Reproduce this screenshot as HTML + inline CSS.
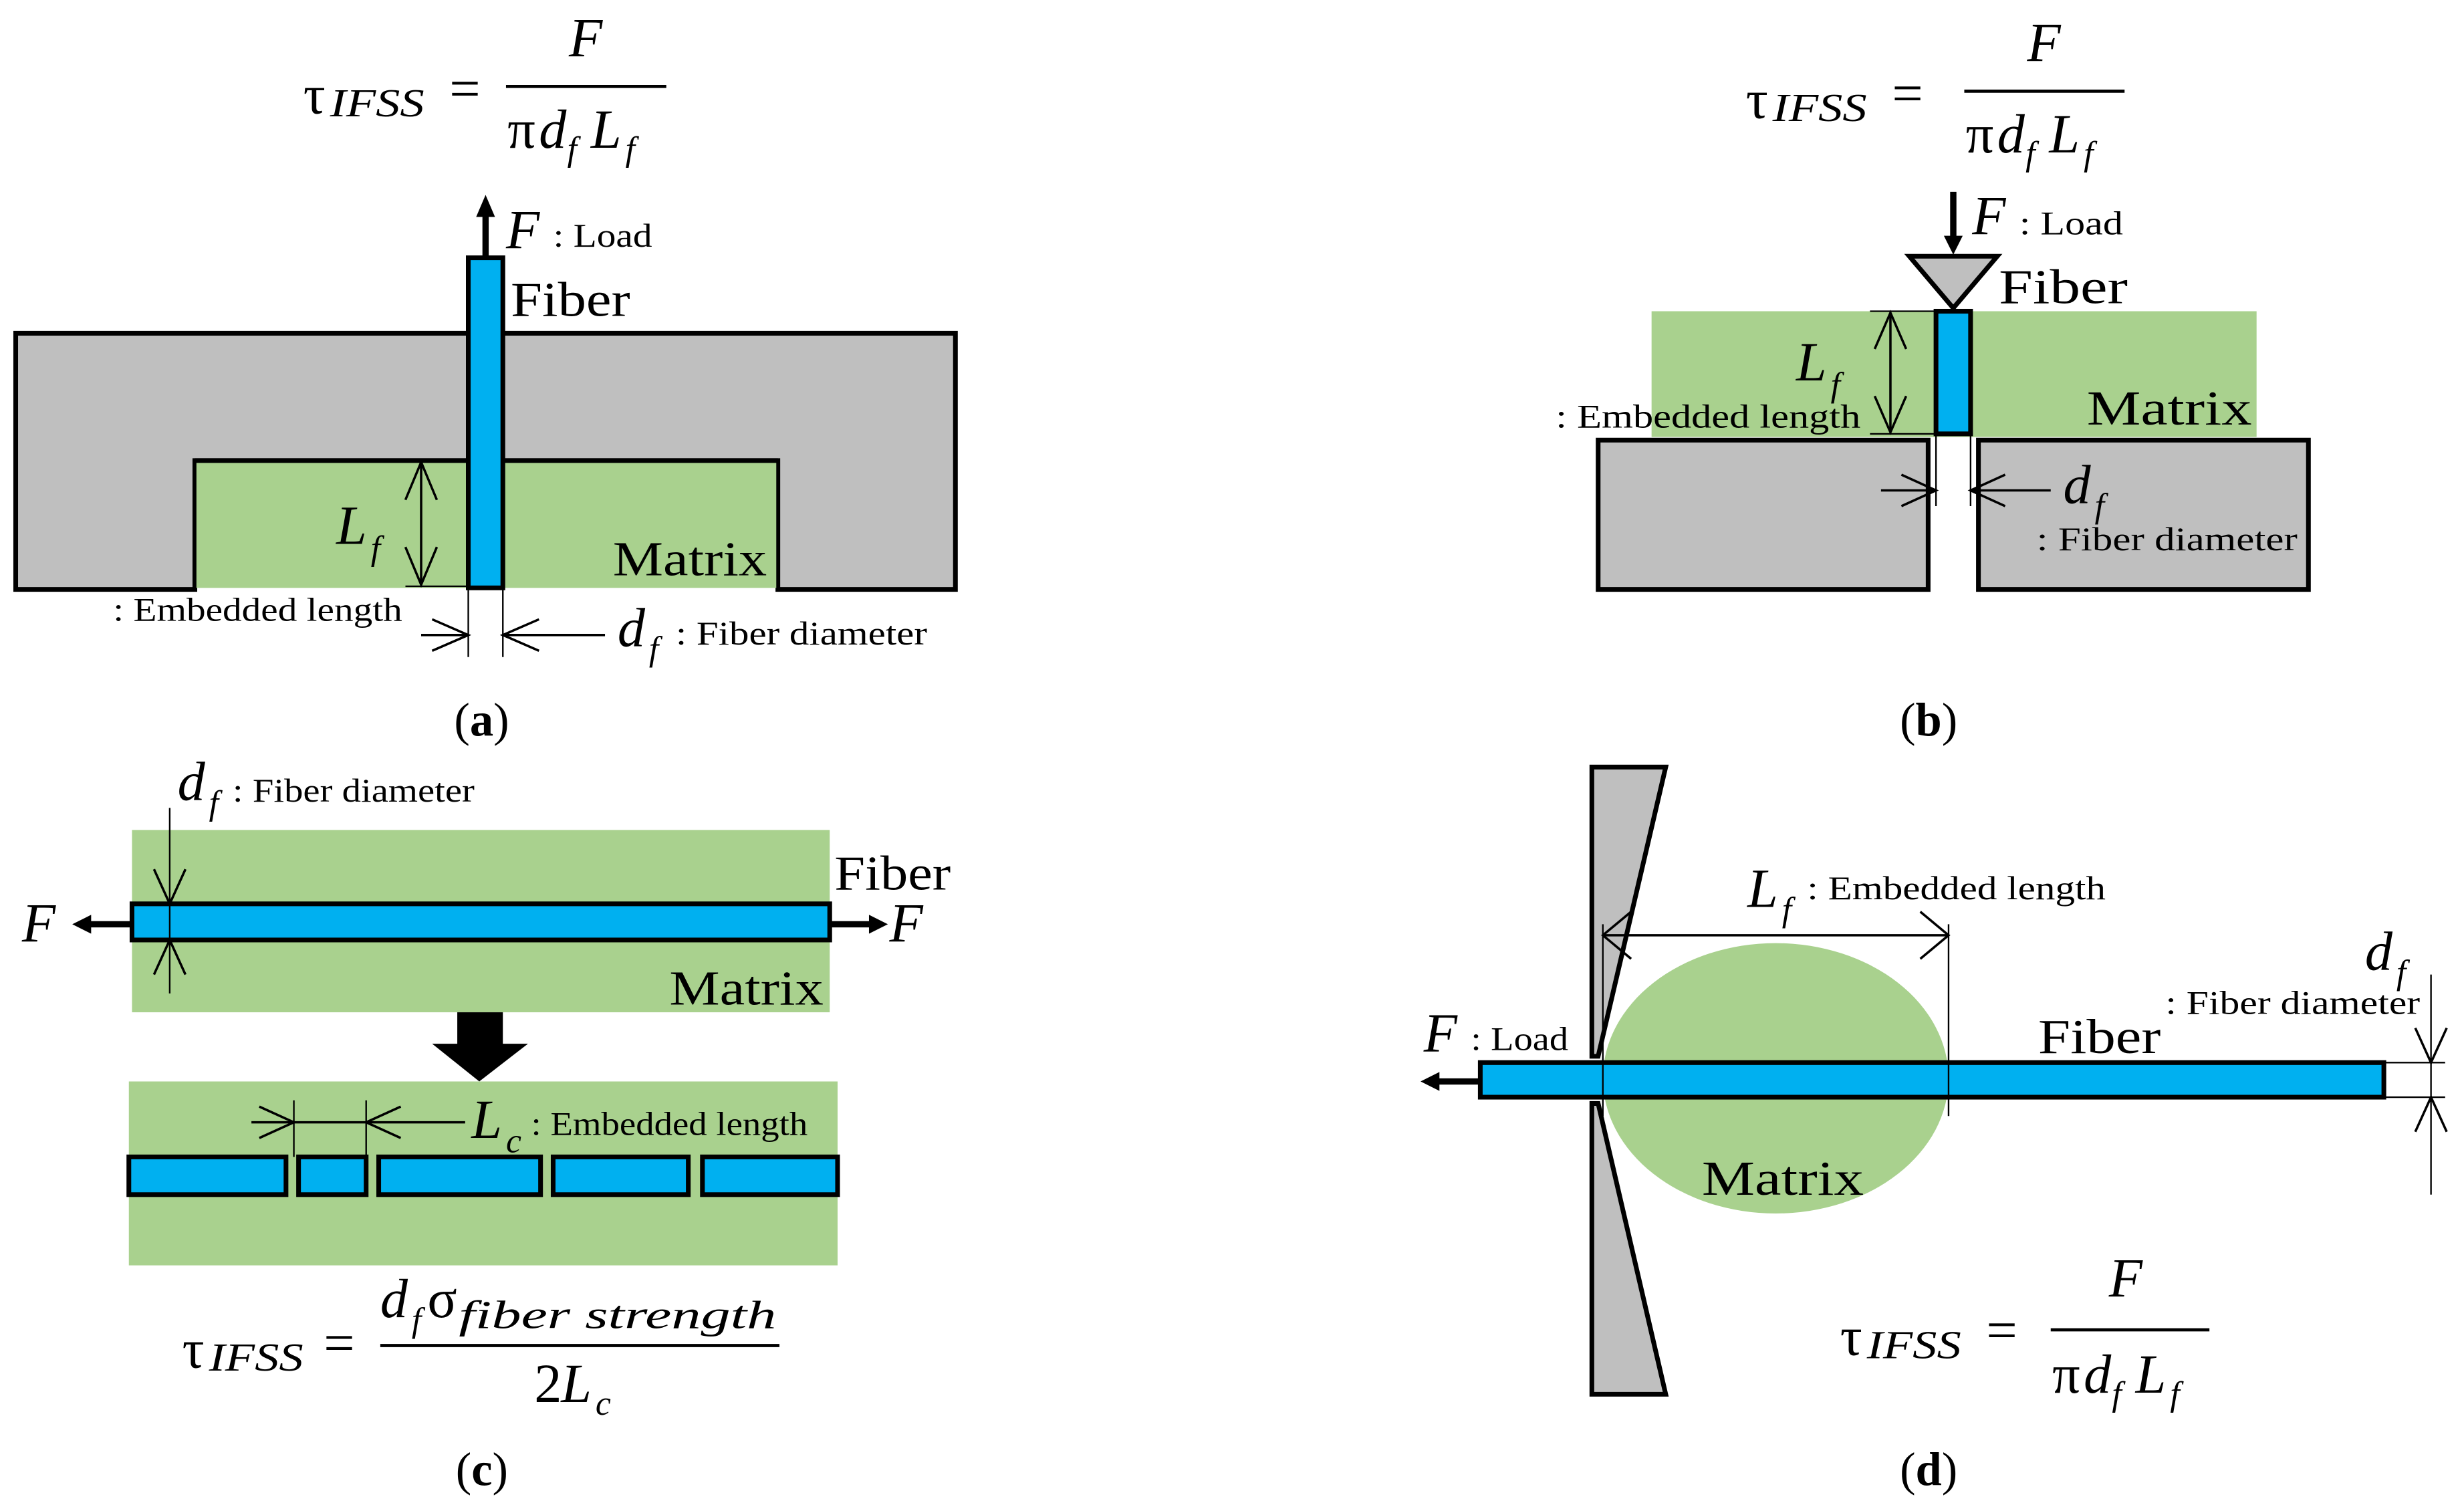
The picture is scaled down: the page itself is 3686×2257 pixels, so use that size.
<!DOCTYPE html>
<html><head><meta charset="utf-8">
<style>
html,body{margin:0;padding:0;background:#fff;}
svg{display:block;}
text{font-family:"Liberation Serif",serif;fill:#000;}
.i{font-style:italic;}
.s{font-size:21px;}
.m{font-size:31px;}
.l{font-size:35px;}
</style></head><body>
<svg width="3686" height="2257" viewBox="0 0 1568 960" preserveAspectRatio="none" xmlns="http://www.w3.org/2000/svg">

<!-- ===== Panel a ===== -->
<text x="193" y="72" class="l">τ</text><text x="210" y="74" class="i" font-size="25" textLength="60" lengthAdjust="spacingAndGlyphs">IFSS</text>
<text x="286" y="68" class="l">=</text>
<text x="362" y="36" class="i l">F</text>
<line x1="322" y1="55" x2="424" y2="55" stroke="#000" stroke-width="2"/>
<text x="323" y="94" class="l">π</text><text x="343" y="94" class="i l">d</text><text x="361" y="102" class="i" font-size="22">f</text><text x="376" y="94" class="i l">L</text><text x="398" y="102" class="i" font-size="22">f</text>

<polygon points="10,212 608,212 608,375 495,375 495,293 124,293 124,375 10,375" fill="#bfbfbf" stroke="#000" stroke-width="3"/>
<rect x="125" y="294" width="369" height="80" fill="#a9d18e"/>
<line x1="124" y1="293" x2="495" y2="293" stroke="#000" stroke-width="3"/>
<rect x="298" y="164" width="22" height="210" fill="#00b0f0" stroke="#000" stroke-width="3"/>
<line x1="309" y1="164" x2="309" y2="136" stroke="#000" stroke-width="4"/>
<polygon points="303,138 315,138 309,124" fill="#000"/>
<text x="322" y="158" class="i l">F</text><text x="352" y="157" class="s" textLength="63" lengthAdjust="spacingAndGlyphs">: Load</text>
<text x="325" y="201" class="m" textLength="76" lengthAdjust="spacingAndGlyphs">Fiber</text>
<line x1="258" y1="293" x2="298" y2="293" stroke="#000" stroke-width="1"/>
<line x1="258" y1="373" x2="298" y2="373" stroke="#000" stroke-width="1"/>
<line x1="268" y1="294" x2="268" y2="372" stroke="#000" stroke-width="1.5"/>
<polyline points="258,318 268,294 278,318" fill="none" stroke="#000" stroke-width="1.5"/>
<polyline points="258,348 268,372 278,348" fill="none" stroke="#000" stroke-width="1.5"/>
<text x="214" y="346" class="i l">L</text><text x="236" y="356" class="i" font-size="22">f</text>
<text x="390" y="366" class="m" textLength="98" lengthAdjust="spacingAndGlyphs">Matrix</text>
<text x="72" y="395" class="s" textLength="184" lengthAdjust="spacingAndGlyphs">: Embedded length</text>
<line x1="298" y1="375" x2="298" y2="418" stroke="#000" stroke-width="1"/>
<line x1="320" y1="375" x2="320" y2="418" stroke="#000" stroke-width="1"/>
<line x1="268" y1="404" x2="298" y2="404" stroke="#000" stroke-width="1.5"/>
<polyline points="275,394 298,404 275,414" fill="none" stroke="#000" stroke-width="1.5"/>
<line x1="320" y1="404" x2="385" y2="404" stroke="#000" stroke-width="1.5"/>
<polyline points="343,394 320,404 343,414" fill="none" stroke="#000" stroke-width="1.5"/>
<text x="393" y="411" class="i l">d</text><text x="413" y="420" class="i" font-size="22">f</text>
<text x="430" y="410" class="s" textLength="160" lengthAdjust="spacingAndGlyphs">: Fiber diameter</text>
<text x="289" y="468" font-size="30">(<tspan font-weight="bold">a</tspan>)</text>

<!-- ===== Panel b ===== -->
<text x="1111" y="75" class="l">τ</text><text x="1128" y="77" class="i" font-size="25" textLength="60" lengthAdjust="spacingAndGlyphs">IFSS</text>
<text x="1204" y="71" class="l">=</text>
<text x="1290" y="39" class="i l">F</text>
<line x1="1250" y1="58" x2="1352" y2="58" stroke="#000" stroke-width="2"/>
<text x="1251" y="97" class="l">π</text><text x="1271" y="97" class="i l">d</text><text x="1289" y="105" class="i" font-size="22">f</text><text x="1304" y="97" class="i l">L</text><text x="1326" y="105" class="i" font-size="22">f</text>

<rect x="1051" y="198" width="385" height="80" fill="#a9d18e"/>
<rect x="1017" y="280" width="210" height="95" fill="#bfbfbf" stroke="#000" stroke-width="3"/>
<rect x="1259" y="280" width="210" height="95" fill="#bfbfbf" stroke="#000" stroke-width="3"/>
<rect x="1232" y="198" width="22" height="78" fill="#00b0f0" stroke="#000" stroke-width="3"/>
<polygon points="1215,163 1271,163 1243,196" fill="#bfbfbf" stroke="#000" stroke-width="3"/>
<line x1="1243" y1="122" x2="1243" y2="152" stroke="#000" stroke-width="4"/>
<polygon points="1237,150 1249,150 1243,162" fill="#000"/>
<text x="1255" y="149" class="i l">F</text><text x="1285" y="149" class="s" textLength="66" lengthAdjust="spacingAndGlyphs">: Load</text>
<text x="1272" y="193" class="m" textLength="82" lengthAdjust="spacingAndGlyphs">Fiber</text>
<line x1="1190" y1="198" x2="1232" y2="198" stroke="#000" stroke-width="1"/>
<line x1="1190" y1="276" x2="1232" y2="276" stroke="#000" stroke-width="1"/>
<line x1="1203" y1="199" x2="1203" y2="275" stroke="#000" stroke-width="1.5"/>
<polyline points="1193,222 1203,199 1213,222" fill="none" stroke="#000" stroke-width="1.5"/>
<polyline points="1193,252 1203,275 1213,252" fill="none" stroke="#000" stroke-width="1.5"/>
<text x="1143" y="242" class="i l">L</text><text x="1165" y="252" class="i" font-size="22">f</text>
<text x="990" y="272" class="s" textLength="194" lengthAdjust="spacingAndGlyphs">: Embedded length</text>
<text x="1328" y="270" class="m" textLength="105" lengthAdjust="spacingAndGlyphs">Matrix</text>
<line x1="1232" y1="276" x2="1232" y2="322" stroke="#000" stroke-width="1"/>
<line x1="1254" y1="276" x2="1254" y2="322" stroke="#000" stroke-width="1"/>
<line x1="1197" y1="312" x2="1232" y2="312" stroke="#000" stroke-width="1.5"/>
<polyline points="1210,302 1232,312 1210,322" fill="none" stroke="#000" stroke-width="1.5"/>
<line x1="1254" y1="312" x2="1305" y2="312" stroke="#000" stroke-width="1.5"/>
<polyline points="1276,302 1254,312 1276,322" fill="none" stroke="#000" stroke-width="1.5"/>
<text x="1313" y="320" class="i l">d</text><text x="1333" y="329" class="i" font-size="22">f</text>
<text x="1296" y="350" class="s" textLength="166" lengthAdjust="spacingAndGlyphs">: Fiber diameter</text>
<text x="1209" y="468" font-size="30">(<tspan font-weight="bold">b</tspan>)</text>

<!-- ===== Panel c ===== -->
<rect x="84" y="528" width="444" height="116" fill="#a9d18e"/>
<rect x="84" y="575" width="444" height="23" fill="#00b0f0" stroke="#000" stroke-width="3"/>
<line x1="84" y1="588" x2="56" y2="588" stroke="#000" stroke-width="4"/>
<polygon points="58,582 58,594 46,588" fill="#000"/>
<line x1="528" y1="588" x2="555" y2="588" stroke="#000" stroke-width="4"/>
<polygon points="553,582 553,594 565,588" fill="#000"/>
<text x="14" y="599" class="i l">F</text>
<text x="566" y="599" class="i l">F</text>
<text x="531" y="566" class="m" textLength="74" lengthAdjust="spacingAndGlyphs">Fiber</text>
<text x="426" y="639" class="m" textLength="98" lengthAdjust="spacingAndGlyphs">Matrix</text>
<line x1="108" y1="514" x2="108" y2="632" stroke="#000" stroke-width="1"/>
<polyline points="98,553 108,575 118,553" fill="none" stroke="#000" stroke-width="1.5"/>
<polyline points="98,620 108,598 118,620" fill="none" stroke="#000" stroke-width="1.5"/>
<text x="113" y="509" class="i l">d</text><text x="133" y="518" class="i" font-size="22">f</text>
<text x="148" y="510" class="s" textLength="154" lengthAdjust="spacingAndGlyphs">: Fiber diameter</text>
<rect x="291" y="644" width="29" height="22" fill="#000"/>
<polygon points="275,664 336,664 305,688" fill="#000"/>
<rect x="82" y="688" width="451" height="117" fill="#a9d18e"/>
<rect x="82" y="736" width="100" height="24" fill="#00b0f0" stroke="#000" stroke-width="3"/>
<rect x="190" y="736" width="43" height="24" fill="#00b0f0" stroke="#000" stroke-width="3"/>
<rect x="241" y="736" width="103" height="24" fill="#00b0f0" stroke="#000" stroke-width="3"/>
<rect x="352" y="736" width="86" height="24" fill="#00b0f0" stroke="#000" stroke-width="3"/>
<rect x="447" y="736" width="86" height="24" fill="#00b0f0" stroke="#000" stroke-width="3"/>
<line x1="160" y1="714" x2="187" y2="714" stroke="#000" stroke-width="1.5"/>
<line x1="187" y1="714" x2="233" y2="714" stroke="#000" stroke-width="1.5"/>
<line x1="233" y1="714" x2="296" y2="714" stroke="#000" stroke-width="1.5"/>
<line x1="187" y1="700" x2="187" y2="736" stroke="#000" stroke-width="1"/>
<line x1="233" y1="700" x2="233" y2="736" stroke="#000" stroke-width="1"/>
<polyline points="165,704 187,714 165,724" fill="none" stroke="#000" stroke-width="1.5"/>
<polyline points="255,704 233,714 255,724" fill="none" stroke="#000" stroke-width="1.5"/>
<text x="300" y="724" class="i l">L</text><text x="322" y="733" class="i" font-size="22">c</text>
<text x="338" y="722" class="s" textLength="176" lengthAdjust="spacingAndGlyphs">: Embedded length</text>
<text x="116" y="870" class="l">τ</text><text x="133" y="872" class="i" font-size="25" textLength="60" lengthAdjust="spacingAndGlyphs">IFSS</text>
<text x="206" y="866" class="l">=</text>
<text x="242" y="838" class="i l">d</text><text x="262" y="847" class="i" font-size="22">f</text><text x="272" y="838" class="l">σ</text><text x="292" y="845" class="i" font-size="25" textLength="202" lengthAdjust="spacingAndGlyphs">fiber strength</text>
<line x1="242" y1="856" x2="496" y2="856" stroke="#000" stroke-width="2"/>
<text x="340" y="892" class="l">2</text><text x="357" y="892" class="i l">L</text><text x="379" y="900" class="i" font-size="22">c</text>
<text x="290" y="945" font-size="30">(<tspan font-weight="bold">c</tspan>)</text>

<!-- ===== Panel d ===== -->
<polygon points="1013,488 1060,488 1017,672 1013,672" fill="#bfbfbf" stroke="#000" stroke-width="3"/>
<polygon points="1013,702 1017,702 1060,887 1013,887" fill="#bfbfbf" stroke="#000" stroke-width="3"/>
<ellipse cx="1130" cy="686" rx="110" ry="86" fill="#a9d18e"/>
<rect x="942" y="676" width="575" height="22" fill="#00b0f0" stroke="#000" stroke-width="3"/>
<line x1="942" y1="688" x2="914" y2="688" stroke="#000" stroke-width="4"/>
<polygon points="916,682 916,694 904,688" fill="#000"/>
<text x="906" y="669" class="i l">F</text><text x="936" y="668" class="s" textLength="62" lengthAdjust="spacingAndGlyphs">: Load</text>
<line x1="1020" y1="588" x2="1020" y2="710" stroke="#000" stroke-width="1"/>
<line x1="1240" y1="588" x2="1240" y2="710" stroke="#000" stroke-width="1"/>
<line x1="1020" y1="595" x2="1240" y2="595" stroke="#000" stroke-width="1.5"/>
<polyline points="1038,580 1020,595 1038,610" fill="none" stroke="#000" stroke-width="1.5"/>
<polyline points="1222,580 1240,595 1222,610" fill="none" stroke="#000" stroke-width="1.5"/>
<text x="1112" y="577" class="i l">L</text><text x="1134" y="586" class="i" font-size="22">f</text>
<text x="1150" y="572" class="s" textLength="190" lengthAdjust="spacingAndGlyphs">: Embedded length</text>
<text x="1297" y="670" class="m" textLength="78" lengthAdjust="spacingAndGlyphs">Fiber</text>
<text x="1083" y="760" class="m" textLength="103" lengthAdjust="spacingAndGlyphs">Matrix</text>
<text x="1505" y="617" class="i l">d</text><text x="1525" y="626" class="i" font-size="22">f</text>
<text x="1378" y="645" class="s" textLength="162" lengthAdjust="spacingAndGlyphs">: Fiber diameter</text>
<line x1="1517" y1="676" x2="1556" y2="676" stroke="#000" stroke-width="1"/>
<line x1="1517" y1="698" x2="1556" y2="698" stroke="#000" stroke-width="1"/>
<line x1="1547" y1="620" x2="1547" y2="760" stroke="#000" stroke-width="1"/>
<polyline points="1537,654 1547,676 1557,654" fill="none" stroke="#000" stroke-width="1.5"/>
<polyline points="1537,720 1547,698 1557,720" fill="none" stroke="#000" stroke-width="1.5"/>
<text x="1171" y="862" class="l">τ</text><text x="1188" y="864" class="i" font-size="25" textLength="60" lengthAdjust="spacingAndGlyphs">IFSS</text>
<text x="1264" y="858" class="l">=</text>
<text x="1342" y="825" class="i l">F</text>
<line x1="1305" y1="846" x2="1406" y2="846" stroke="#000" stroke-width="2"/>
<text x="1306" y="886" class="l">π</text><text x="1326" y="886" class="i l">d</text><text x="1344" y="894" class="i" font-size="22">f</text><text x="1359" y="886" class="i l">L</text><text x="1381" y="894" class="i" font-size="22">f</text>
<text x="1209" y="945" font-size="30">(<tspan font-weight="bold">d</tspan>)</text>
</svg>
</body></html>
